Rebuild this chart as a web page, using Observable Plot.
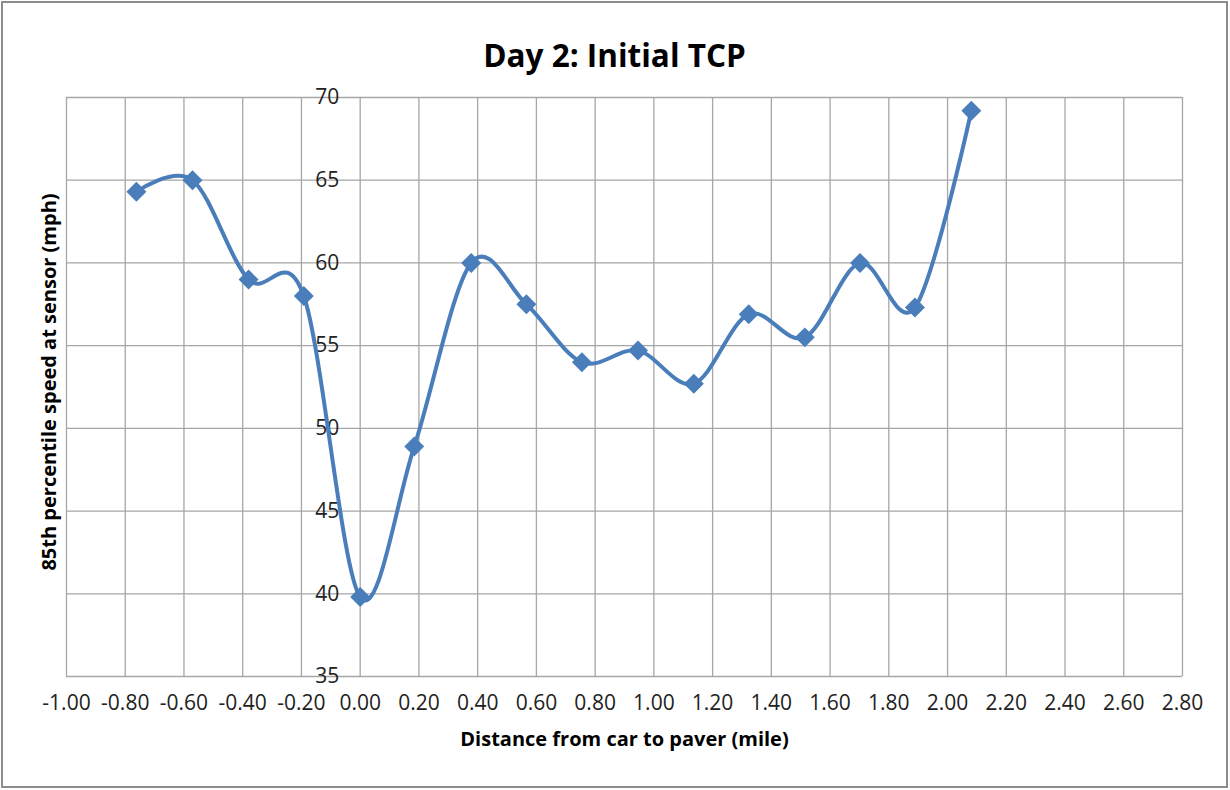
<!DOCTYPE html>
<html><head><meta charset="utf-8">
<script src="https://cdn.jsdelivr.net/npm/d3@7"></script>
<script src="https://cdn.jsdelivr.net/npm/@observablehq/plot@0.6"></script>
<style>
body{margin:0;background:#fff;}
#wrap{position:relative;width:1230px;height:790px;overflow:hidden;background:#fff;}
#border{position:absolute;left:1px;top:1px;width:1227px;height:787px;border:2px solid #8c8c8c;box-sizing:border-box;pointer-events:none;}
#chart svg{position:absolute;left:0;top:0;}
</style>
</head><body>
<div id="wrap"><div id="chart"></div><div id="border"></div></div>
<script>
const titleText = "Day 2: Initial TCP";
const xTitle = "Distance from car to paver (mile)";
const yTitle = "85th percentile speed at sensor (mph)";
const distance = [-0.762, -0.571, -0.380, -0.192, 0.000, 0.184, 0.378, 0.566, 0.755, 0.946, 1.136, 1.323, 1.514, 1.702, 1.889, 2.081];
const speed = [64.3, 65.0, 59.0, 58.0, 39.8, 48.9, 60.0, 57.5, 54.0, 54.7, 52.7, 56.9, 55.5, 60.0, 57.3, 69.2];
const xTicks = [-1.0, -0.8, -0.6, -0.4, -0.2, 0.0, 0.2, 0.4, 0.6, 0.8, 1.0, 1.2, 1.4, 1.6, 1.8, 2.0, 2.2, 2.4, 2.6, 2.8];
const yTicks = [35, 40, 45, 50, 55, 60, 65, 70];

const data = distance.map((d, i) => ({x: d, y: speed[i]}));
const font = "'Open Sans', Lato, sans-serif";
const blue = "#4A7EBB";
const grid = "#a6a6a6";

const chart = Plot.plot({
  width: 1230,
  height: 790,
  marginLeft: 66,
  marginRight: 48,
  marginTop: 97,
  marginBottom: 114,
  style: {fontFamily: font, background: "transparent", overflow: "visible"},
  x: {domain: [-1, 2.8], axis: null},
  y: {domain: [35, 70], axis: null},
  marks: [
    Plot.gridX(xTicks, {stroke: grid, strokeOpacity: 1, strokeWidth: 1.3}),
    Plot.gridY(yTicks, {stroke: grid, strokeOpacity: 1, strokeWidth: 1.3}),
    Plot.text(yTicks, {x: yTicks.map(() => 0), y: d => d, text: d => String(d), textAnchor: "end", dx: -21, fontSize: 21, fill: "#222"}),
    Plot.text(xTicks, {x: d => d, frameAnchor: "bottom", text: d => d.toFixed(2), dy: 33, fontSize: 21, fill: "#222"}),
    Plot.line(data, {x: "x", y: "y", stroke: blue, strokeWidth: 4, curve: "cardinal", tension: 0}),
    Plot.dot(data, {x: "x", y: "y", symbol: "diamond2", r: 9, fill: blue, stroke: null}),
    Plot.text([titleText], {frameAnchor: "top", textAnchor: "middle", dx: -10, dy: -52.5, fontSize: 31.5, fontWeight: "bold", fill: "#000"}),
    Plot.text([xTitle], {frameAnchor: "bottom", textAnchor: "middle", dy: 69, fontSize: 20, fontWeight: "bold", fill: "#000"}),
    Plot.text([yTitle], {frameAnchor: "left", textAnchor: "middle", rotate: -90, dx: -17, dy: -5, fontSize: 20, fontWeight: "bold", fill: "#000"})
  ]
});
document.getElementById("chart").appendChild(chart);
</script>
</body></html>
